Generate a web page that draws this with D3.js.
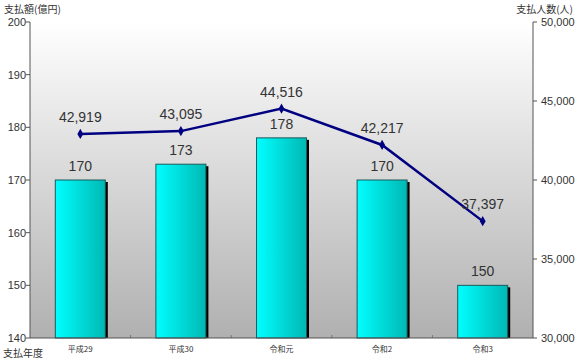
<!DOCTYPE html>
<html><head><meta charset="utf-8">
<script src="https://cdn.jsdelivr.net/npm/d3@7/dist/d3.min.js"></script>
<style>body{margin:0;background:#fff;}svg{display:block;font-family:"Noto Sans CJK JP","Liberation Sans",sans-serif;}</style>
</head><body><svg id="c" width="580" height="360"></svg>
<script>
const categories = ["平成29","平成30","令和元","令和2","令和3"];
const amounts = [170, 173, 178, 170, 150];
const people = [42919, 43095, 44516, 42217, 37397];
const leftTicks = [140,150,160,170,180,190,200];
const rightTicks = [30000,35000,40000,45000,50000];

const svg = d3.select("#c");
const L = 30, R = 533, T = 22, B = 338;
const x = d3.scaleBand().domain(categories).range([L, R]);
const yL = d3.scaleLinear().domain([140, 200]).range([B, T]);
const yR = d3.scaleLinear().domain([30000, 50000]).range([B, T]);

const defs = svg.append("defs");
const bg = defs.append("linearGradient").attr("id","bg").attr("x1",0).attr("y1",0).attr("x2",0).attr("y2",1);
bg.append("stop").attr("offset","0%").attr("stop-color","#ffffff");
bg.append("stop").attr("offset","100%").attr("stop-color","#b0b0b0");
const bar = defs.append("linearGradient").attr("id","bar").attr("x1",0).attr("y1",0).attr("x2",1).attr("y2",0);
bar.append("stop").attr("offset","0%").attr("stop-color","#00ffff");
bar.append("stop").attr("offset","100%").attr("stop-color","#00b8b4");

svg.append("rect").attr("x",L).attr("y",T).attr("width",R-L).attr("height",B-T).attr("fill","url(#bg)");

svg.append("g").selectAll("line").data(categories.slice(1)).join("line")
  .attr("x1",d=>x(d)).attr("x2",d=>x(d)).attr("y1",B).attr("y2",B-3)
  .attr("stroke","#777").attr("stroke-width",1);

const bw = 50;
const bars = svg.append("g").selectAll("g").data(categories).join("g");
bars.append("rect")
  .attr("x",(d,i)=>x(d)+x.bandwidth()/2-bw/2+2.5).attr("y",(d,i)=>yL(amounts[i])+2)
  .attr("width",bw).attr("height",(d,i)=>B-yL(amounts[i])-2).attr("fill","#000");
bars.append("rect")
  .attr("x",(d,i)=>x(d)+x.bandwidth()/2-bw/2).attr("y",(d,i)=>yL(amounts[i]))
  .attr("width",bw).attr("height",(d,i)=>B-yL(amounts[i])).attr("fill","url(#bar)")
  .attr("stroke","#1a5a5a").attr("stroke-width",1);
bars.append("text")
  .attr("x",d=>x(d)+x.bandwidth()/2).attr("y",(d,i)=>yL(amounts[i])-9)
  .attr("text-anchor","middle").attr("font-size",14).attr("fill","#333")
  .attr("font-family","Liberation Sans, Arial, sans-serif")
  .text((d,i)=>amounts[i]);

svg.append("line").attr("x1",L).attr("x2",L).attr("y1",T).attr("y2",B).attr("stroke","#555");
svg.append("line").attr("x1",R).attr("x2",R).attr("y1",T).attr("y2",B).attr("stroke","#555");
svg.append("line").attr("x1",L).attr("x2",R).attr("y1",B).attr("y2",B).attr("stroke","#555");

const gl = svg.append("g");
gl.selectAll("line").data(leftTicks).join("line")
  .attr("x1",L-4).attr("x2",L).attr("y1",d=>yL(d)).attr("y2",d=>yL(d)).attr("stroke","#555");
gl.selectAll("text").data(leftTicks).join("text")
  .attr("x",L-4).attr("y",d=>yL(d)+4).attr("text-anchor","end").attr("font-size",11)
  .attr("font-family","Liberation Sans, Arial, sans-serif").attr("fill","#333").text(d=>d);

const gr = svg.append("g");
gr.selectAll("line").data(rightTicks).join("line")
  .attr("x1",R).attr("x2",R+4).attr("y1",d=>yR(d)).attr("y2",d=>yR(d)).attr("stroke","#555");
gr.selectAll("text").data(rightTicks).join("text")
  .attr("x",R+8).attr("y",d=>yR(d)+4).attr("text-anchor","start").attr("font-size",11)
  .attr("font-family","Liberation Sans, Arial, sans-serif").attr("fill","#333").text(d=>d3.format(",")(d));

svg.append("g").selectAll("text").data(categories).join("text")
  .attr("x",d=>x(d)+x.bandwidth()/2).attr("y",352).attr("text-anchor","middle")
  .attr("font-size",8).attr("fill","#333").text(d=>d);

const pts = categories.map((c,i)=>[x(c)+x.bandwidth()/2, yR(people[i])]);
svg.append("path").attr("d",d3.line()(pts)).attr("fill","none").attr("stroke","#000080").attr("stroke-width",2.5);
svg.append("g").selectAll("path").data(pts).join("path")
  .attr("transform",d=>`translate(${d[0]},${d[1]})`)
  .attr("d",d3.symbol().type(d3.symbolDiamond).size(30)).attr("fill","#000080");
svg.append("g").selectAll("text").data(pts).join("text")
  .attr("x",d=>d[0]).attr("y",d=>d[1]-12).attr("text-anchor","middle").attr("font-size",14)
  .attr("font-family","Liberation Sans, Arial, sans-serif").attr("fill","#333")
  .text((d,i)=>d3.format(",")(people[i]));

svg.append("text").attr("x",4).attr("y",13).attr("font-size",10).attr("fill","#333").text("支払額(億円)");
svg.append("text").attr("x",573).attr("y",13).attr("text-anchor","end").attr("font-size",10).attr("fill","#333").text("支払人数(人)");
svg.append("text").attr("x",3).attr("y",357).attr("font-size",10).attr("fill","#333").text("支払年度");
</script></body></html>
